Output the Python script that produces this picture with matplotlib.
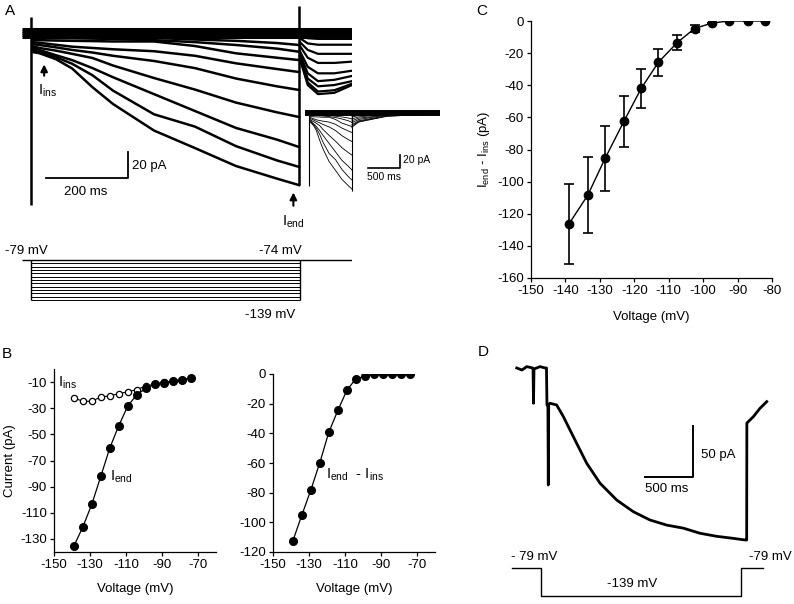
import matplotlib
matplotlib.use('Agg')
import matplotlib.pyplot as plt

plt.rcParams['font.family'] = ['Liberation Sans', 'DejaVu Sans']
plt.rcParams['mathtext.fontset'] = 'custom'
plt.rcParams['mathtext.rm'] = 'Liberation Sans'
plt.rcParams['axes.unicode_minus'] = False
plt.rcParams['font.size'] = 9
plt.rcParams['axes.linewidth'] = 0.9
plt.rcParams['xtick.major.size'] = 3
plt.rcParams['ytick.major.size'] = 3
plt.rcParams['xtick.major.width'] = 0.9
plt.rcParams['ytick.major.width'] = 0.9

# ---------------- data ----------------
# B: step voltages (mV) and currents (pA)
volt = [-139, -134, -129, -124, -119, -114, -109, -104, -99, -94, -89, -84, -79, -74]
i_end = [-135.6, -120.9, -103.5, -82.1, -60.4, -43.3, -28.3, -19.6, -14.9, -11.6, -10.5, -9.2, -8.2, -7.1]
i_ins = [-22.1, -24.7, -24.7, -21.4, -20.6, -18.8, -17.5, -15.7, -13.1, -11.5, -10.3, -9.0, -8.2, -7.2]
i_diff = [-112.6, -95.2, -78.3, -59.8, -39.3, -24.6, -11.1, -3.2, -1.6, 0, 0, 0, 0, 0]

# C: mean +/- SEM
volt_c = [-139, -133.5, -128.5, -123, -118, -113, -107.5, -102.5, -97.5, -92.5, -87, -82]
mean_c = [-126.4, -108.4, -85.6, -62.4, -42.0, -25.7, -13.4, -4.7, -1.3, 0, 0, 0]
sem_c = [25, 23.7, 20, 16, 12, 8.3, 4.7, 2, 0, 0, 0, 0]

# A: voltage protocol (mV)
hold_mv = -79
prot_levels = [-79, -84, -89, -94, -99, -104, -109, -114, -119, -124, -129, -134, -139]
prot_end = 656  # ms

# A: current traces, pA relative to holding current
a_t_step = [3, 20, 60, 100, 150, 200, 300, 400, 500, 600, 654]
a_step_traces = [
    [-14.6, -15.5, -20, -27.2, -41.7, -54.6, -75, -88.5, -102.3, -112, -117],
    [-13, -14.6, -18.5, -23.6, -32.5, -44.3, -62.5, -72, -87, -98, -103],
    [-11.5, -13, -17, -20.8, -27, -34, -47, -60, -73, -82, -87.7],
    [-10, -11.5, -13.5, -16, -19.2, -25, -34.6, -43.5, -53.5, -61, -64.6],
    [-8.5, -9.2, -11, -13, -15, -17.5, -21.5, -27, -35, -41, -43.8],
    [-7, -7.5, -9, -10.5, -11.5, -12.5, -14, -17.5, -23.3, -27.7, -30],
    [-5.4, -5.5, -5.8, -6, -6.2, -6.5, -6.5, -10, -15.6, -19, -20.8],
    [-3.8, -3.8, -4, -4, -4.3, -4.6, -5.5, -7, -9.2, -12, -14.4],
    [-3, -3, -3, -3.2, -3.3, -3.4, -3.8, -5, -6, -7.7, -9.2],
]
a_t_tail = [656, 675, 700, 740, 783]
a_tail_traces = [
    [-20, -40, -47, -46, -40],
    [-19, -38, -45, -44, -39],
    [-18, -35, -41, -40, -37],
    [-16, -31, -37, -36, -33],
    [-14, -26, -31, -31, -29],
    [-10, -19, -23, -23, -22],
    [-7, -13, -16, -16, -16],
    [-4, -8, -9, -9, -9],
    [-2, -4, -4.5, -4.5, -4.5],
]
a_band = [3.0, 1.5, 0.0, -1.5, -3.0]
a_cap_on = [12, -132]
a_cap_off = [21, -117]

# A inset: tails on the slow time base
inset_t_tail = [654, 760, 1200, 2030]
inset_tail_traces = [
    [-22, -14, -5, -1],
    [-20, -13, -5, -1],
    [-18, -12, -4, -1],
    [-15, -10, -3, 0],
    [-12, -8, -3, 0],
    [-9, -6, -2, 0],
    [-6, -4, -1, 0],
    [-4, -3, -1, 0],
    [-2, -1, 0, 0],
]

# D: single trace (ms, pA) and protocol
d_t = [-305, -250, -201, -140, -135, -130, -125, -62, -10, 5, 10, 20, 24, 28, 42, 111, 181, 250,
       319, 424, 563, 736, 910, 1083, 1257, 1431, 1604, 1778, 1951, 2073, 2090, 2092, 2160, 2229, 2299]
d_i = [0, -2, 1.3, 0, -1, -34.6, -1, 1.3, 0, 0, -36, -38, -114.7, -36, -34.6, -36.3, -47.7, -60.8,
       -73.8, -93.4, -113, -129.4, -140.9, -149, -154, -157, -162, -165, -167, -168.6, -168.6, -54,
       -47.7, -39.5, -33]
d_prot_t = [-354, -52, -52, 2031, 2031, 2260]
d_prot_v = [-79, -79, -139, -139, -79, -79]

W, H = 794, 604
fig = plt.figure(figsize=(W / 100, H / 100), dpi=100)


def px_axes(x0, y0, x1, y1):
    return fig.add_axes([x0 / W, 1 - y1 / H, (x1 - x0) / W, (y1 - y0) / H])


def ftext(x, y, s, **kw):
    kw.setdefault('ha', 'center')
    kw.setdefault('va', 'center')
    fig.text(x / W, 1 - y / H, s, **kw)


def style_iv(ax):
    ax.spines['top'].set_visible(False)
    ax.spines['right'].set_visible(False)
    ax.tick_params(labelsize=9.5, pad=2)


# ---------------- A: traces ----------------
axA = px_axes(22, 0, 352, 240)
axA.set_xlim(-22, 783)
axA.set_ylim(-159.2, 25.4)
axA.axis('off')
axA.hlines(a_band, -22, 783, color='k', lw=2.2)
for tr in a_step_traces:
    axA.plot(a_t_step, tr, color='k', lw=1.8)
for tr in a_tail_traces:
    axA.plot(a_t_tail, tr, color='k', lw=1.6)
axA.vlines(0, a_cap_on[1], a_cap_on[0], color='k', lw=1.8)
axA.vlines(654, a_cap_off[1], a_cap_off[0], color='k', lw=1.8)
# scale bar
axA.plot([36, 236, 236], [-111.5, -111.5, -91.5], color='k', lw=1.3)
ftext(132, 166, '20 pA', ha='left', fontsize=9.5)
ftext(86, 192, '200 ms', fontsize=9.5)
# arrows
arr = dict(arrowstyle='-|>', color='k', lw=1.5, mutation_scale=10)
axA.annotate('', xy=(32, -22), xytext=(32, -35), arrowprops=arr)
axA.annotate('', xy=(640, -120.5), xytext=(640, -135), arrowprops=arr, annotation_clip=False)
ftext(48, 91, r'I$_{\mathregular{ins}}$', fontsize=10.5)
ftext(293, 222, r'I$_{\mathregular{end}}$', fontsize=10.5)

# inset
axI = px_axes(305, 103, 440, 195)
axI.set_xlim(-78, 2031)
axI.set_ylim(-126.2, 15.4)
axI.axis('off')
axI.hlines(a_band, -78, 2031, color='k', lw=1.4)
for tr in a_step_traces:
    axI.plot(a_t_step, tr, color='k', lw=0.6)
for tr in inset_tail_traces:
    axI.plot(inset_t_tail, tr, color='k', lw=0.6)
axI.vlines(-20, -112, 0, color='k', lw=0.8)
axI.vlines(654, -120, 0, color='k', lw=0.8)
axI.plot([906, 1406, 1406], [-84.6, -84.6, -64.6], color='k', lw=1.2)
ftext(403, 160, '20 pA', ha='left', fontsize=7.5)
ftext(384, 177, '500 ms', fontsize=7.5)

# A: protocol
axP = px_axes(22, 240, 352, 320)
axP.set_xlim(-22, 783)
axP.set_ylim(-169, -49)
axP.axis('off')
axP.hlines(hold_mv, -22, 783, color='k', lw=1.0)
axP.hlines(prot_levels, 0, prot_end, color='k', lw=0.7)
axP.vlines([0, prot_end], min(prot_levels), max(prot_levels), color='k', lw=1.0)
ftext(26, 251, '-79 mV', fontsize=9.5)
ftext(280, 251, '-74 mV', fontsize=9.5)
ftext(270, 315, '-139 mV', fontsize=9.5)

# ---------------- B ----------------
axB1 = px_axes(54, 369, 216, 552)
axB1.plot(volt, i_ins, '-o', color='k', mfc='white', ms=4.5, lw=0.8, mew=0.9)
axB1.plot(volt, i_end, '-o', color='k', ms=5.5, lw=0.9)
axB1.set_xlim(-150, -60)
axB1.set_ylim(-140, 0)
axB1.set_xticks([-150, -130, -110, -90, -70])
axB1.set_yticks([-130, -110, -90, -70, -50, -30, -10])
style_iv(axB1)
axB1.set_xlabel('Voltage (mV)', fontsize=9.5, labelpad=9)
axB1.set_ylabel('Current (pA)', fontsize=9.5, labelpad=3)
ftext(68, 383, r'I$_{\mathregular{ins}}$', fontsize=10.5)
ftext(121, 477, r'I$_{\mathregular{end}}$', fontsize=10.5)

axB2 = px_axes(273, 374, 435, 552)
axB2.plot(volt, i_diff, '-o', color='k', ms=5.5, lw=0.9)
axB2.set_xlim(-150, -60)
axB2.set_ylim(-120, 0)
axB2.set_xticks([-150, -130, -110, -90, -70])
axB2.set_yticks([-120, -100, -80, -60, -40, -20, 0])
style_iv(axB2)
axB2.set_xlabel('Voltage (mV)', fontsize=9.5, labelpad=9)
ftext(326, 475, r'I$_{\mathregular{end}}$  - I$_{\mathregular{ins}}$', ha='left', fontsize=10.5)

# ---------------- C ----------------
axC = px_axes(531, 21, 772, 278)
axC.errorbar(volt_c, mean_c, yerr=sem_c, fmt='-o', color='k', ms=6, lw=1.0,
             elinewidth=1.2, capsize=3.5, capthick=1.2)
axC.set_xlim(-150, -80)
axC.set_ylim(-160, 0)
axC.set_xticks(range(-150, -79, 10))
axC.set_yticks(range(-160, 1, 20))
style_iv(axC)
axC.set_xlabel('Voltage (mV)', fontsize=9.5, labelpad=10)
axC.set_ylabel(r'I$_{\mathregular{end}}$ - I$_{\mathregular{ins}}$ (pA)', fontsize=9.5, labelpad=4)

# ---------------- D ----------------
axD = px_axes(505, 345, 775, 550)
axD.set_xlim(-427, 2385)
axD.set_ylim(-178.4, 22.5)
axD.axis('off')
axD.plot(d_t, d_i, color='k', lw=2.0)
axD.plot([1035, 1535, 1535], [-107, -107, -57], color='k', lw=1.4)
ftext(701, 455, '50 pA', ha='left', fontsize=9.5)
ftext(667, 489, '500 ms', fontsize=9.5)

axDP = px_axes(505, 550, 775, 604)
axDP.set_xlim(-427, 2385)
axDP.set_ylim(-156.1, -40.5)
axDP.axis('off')
axDP.plot(d_prot_t, d_prot_v, color='k', lw=1.0)
ftext(534, 557, '- 79 mV', fontsize=9.5)
ftext(770, 557, '-79 mV', fontsize=9.5)
ftext(632, 584, '-139 mV', fontsize=9.5)

# panel letters
ftext(10, 11, 'A', fontsize=11)
ftext(7, 354, 'B', fontsize=11)
ftext(482, 11, 'C', fontsize=11)
ftext(483, 352, 'D', fontsize=11)

fig.savefig('out.png', dpi=100)
